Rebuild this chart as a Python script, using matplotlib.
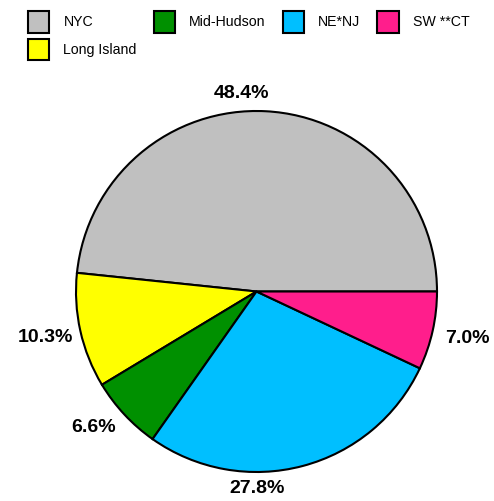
import numpy as np
import matplotlib
matplotlib.use("Agg")
import matplotlib.pyplot as plt

plt.rcParams['font.family'] = ['Liberation Sans', 'DejaVu Sans']

# Data (pie order is counterclockwise from 3 o'clock)
regions = ['NYC', 'Long Island', 'Mid-Hudson', 'NE*NJ', 'SW **CT']
shares = [48.4, 10.3, 6.6, 27.8, 7.0]
colors = ['#C0C0C0', '#FFFF00', '#009000', '#00BFFF', '#FF1E8C']

# small angular nudges so the percentage labels sit where the original had them
label_shift_deg = [7.4, -0.4, -3.1, -14.7, 0.0]

W, H = 494, 501
fig = plt.figure(figsize=(W / 100, H / 100), dpi=100)

# square axes holding the pie (radius 1)
cx, cy, r = 256.5, 291.5, 180.5
ax = fig.add_axes([(cx - r) / W, (H - cy - r) / H, 2 * r / W, 2 * r / H])

wedges, _ = ax.pie(shares, colors=colors, startangle=0, counterclock=True,
                   wedgeprops=dict(edgecolor='black', linewidth=1.5))
ax.set_xlim(-1, 1)
ax.set_ylim(-1, 1)
ax.set_aspect('equal')
ax.axis('off')

for w, val, shift in zip(wedges, shares, label_shift_deg):
    ang = np.deg2rad((w.theta1 + w.theta2) / 2 + shift)
    d = 1.09 + 0.11 * abs(np.cos(ang))
    ax.text(d * np.cos(ang), d * np.sin(ang), f'{val:.1f}%',
            ha='center', va='center', fontsize=14, fontweight='bold',
            clip_on=False)

fig.legend(wedges, regions, loc='upper left',
           bbox_to_anchor=(28 / W, 1 - 11 / H), bbox_transform=fig.transFigure,
           ncol=4, frameon=False, fontsize=10.2, borderpad=0, borderaxespad=0,
           handlelength=1.5, handleheight=2.0, handletextpad=1.0,
           labelspacing=0.4, columnspacing=1.2)

fig.savefig('out.png', dpi=100)
